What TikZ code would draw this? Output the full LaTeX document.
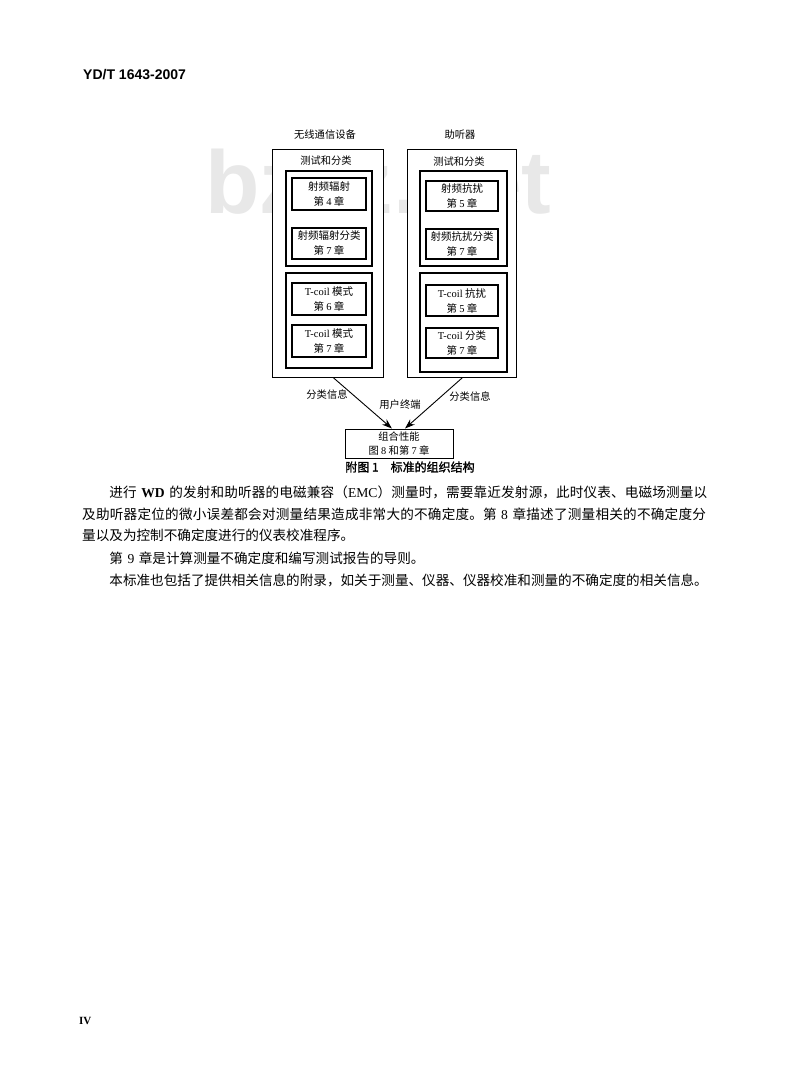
\documentclass[tikz,border=0pt]{standalone}
\usepackage{fontspec}
\setmainfont{Noto Sans CJK SC}
\newfontfamily\lat{Liberation Serif}
\newfontfamily\hdr{Liberation Sans}
\newfontfamily\cjkb{Noto Sans CJK SC}[FakeBold=1.5]
\usetikzlibrary{arrows.meta,calc}
\XeTeXlinebreaklocale "zh"
\XeTeXlinebreakskip=0pt plus 1.5pt
\newcommand\latn[1]{{\lat #1}}
\tikzset{
  outerbox/.style={draw, line width=1pt, fill=white, inner sep=0},
  grpbox/.style={draw, line width=1.1pt, fill=white, inner sep=0},
  chapbox/.style={draw, line width=1.4pt, fill=white, align=center, inner sep=0,
    font=\fontsize{10.5}{15}\selectfont},
  lbl/.style={inner sep=0, font=\fontsize{10.3}{12}\selectfont},
  arr/.style={-{Stealth[length=10pt,width=7pt]}, line width=0.9pt},
}
\begin{document}
\begin{tikzpicture}[x=1pt,y=-1pt]
\useasboundingbox (0,0) rectangle (800,1084);
\fill[white] (0,0) rectangle (800,1084);
% header
\node[anchor=west, inner sep=0, font=\hdr\bfseries\fontsize{14}{16}\selectfont] (hdr) at (83,75) {YD/T 1643-2007};
% watermark
\node[anchor=base west, inner sep=0, text=black!9, font=\hdr\bfseries\fontsize{89}{90}\selectfont] (wm) at (205,213) {bzzz.net};
% left column
\node[lbl] (ltitle) at (325,135) {无线通信设备};
\node[outerbox, minimum width=111pt, minimum height=228pt] (Louter) at (327.5,263) {};
\node[lbl] (ltest) at (326,161) {测试和分类};
\node[grpbox, minimum width=86pt, minimum height=95pt] (Lg1) at (329,218.5) {};
\node[chapbox, minimum width=74pt, minimum height=32pt] (L1) at (329,194) {射频辐射\\第 \latn{4} 章};
\node[chapbox, minimum width=74pt, minimum height=31pt] (L2) at (329,243.5) {射频辐射分类\\第 \latn{7} 章};
\node[grpbox, minimum width=86pt, minimum height=95pt] (Lg2) at (329,320.5) {};
\node[chapbox, minimum width=74pt, minimum height=32pt] (L3) at (329,299) {\latn{T-coil} 模式\\第 \latn{6} 章};
\node[chapbox, minimum width=74pt, minimum height=32pt] (L4) at (329,341) {\latn{T-coil} 模式\\第 \latn{7} 章};
% right column
\node[lbl] (rtitle) at (460,135) {助听器};
\node[outerbox, minimum width=109pt, minimum height=228pt] (Router) at (461.5,263) {};
\node[lbl] (rtest) at (459,162) {测试和分类};
\node[grpbox, minimum width=87pt, minimum height=95pt] (Rg1) at (463.5,218.5) {};
\node[chapbox, minimum width=72pt, minimum height=30pt] (R1) at (462,196) {射频抗扰\\第 \latn{5} 章};
\node[chapbox, minimum width=72pt, minimum height=30pt] (R2) at (462,244) {射频抗扰分类\\第 \latn{7} 章};
\node[grpbox, minimum width=87pt, minimum height=99pt] (Rg2) at (463.5,322.5) {};
\node[chapbox, minimum width=72pt, minimum height=31pt] (R3) at (462,300.5) {\latn{T-coil} 抗扰\\第 \latn{5} 章};
\node[chapbox, minimum width=72pt, minimum height=30pt] (R4) at (462,343) {\latn{T-coil} 分类\\第 \latn{7} 章};
% bottom
\node[chapbox, line width=1pt, minimum width=108pt, minimum height=29pt, font=\fontsize{10.3}{13.5}\selectfont] (comb) at (399,443.5) {组合性能\\图 \latn{8} 和第 \latn{7} 章};
\draw[arr] ($(Louter.south west)!0.55!(Louter.south east)$) -- ($(comb.north west)!0.435!(comb.north east)$);
\draw[arr] ($(Router.south west)!0.51!(Router.south east)$) -- ($(comb.north west)!0.555!(comb.north east)$);
\node[lbl] (lcls) at (327,395) {分类信息};
\node[lbl] (user) at (400,405) {用户终端};
\node[lbl] (rcls) at (470,397) {分类信息};
\node[inner sep=0, font=\cjkb\fontsize{12}{14}\selectfont] (cap) at (410,467) {附图 1　标准的组织结构};
% body text
\node[anchor=north west, inner sep=0, text width=628pt, font=\fontsize{13.6}{21.5}\selectfont] (para) at (82,486) {%
\parindent=0pt\parskip=1pt
\hspace*{2em}进行 {\lat\bfseries WD} 的发射和助听器的电磁兼容（{\lat EMC}）测量时，需要靠近发射源，此时仪表、电磁场测量以\linebreak
及助听器定位的微小误差都会对测量结果造成非常大的不确定度。第 {\lat 8} 章描述了测量相关的不确定度分\linebreak
量以及为控制不确定度进行的仪表校准程序。\par
\hspace*{2em}第 {\lat 9} 章是计算测量不确定度和编写测试报告的导则。\par
\hspace*{2em}本标准也包括了提供相关信息的附录，如关于测量、仪器、仪器校准和测量的不确定度的相关信息。\par}; 
% footer
\node[anchor=west, inner sep=0, font=\lat\bfseries\fontsize{11}{13}\selectfont] (pg) at (79,1021) {IV};
\end{tikzpicture}
\end{document}
